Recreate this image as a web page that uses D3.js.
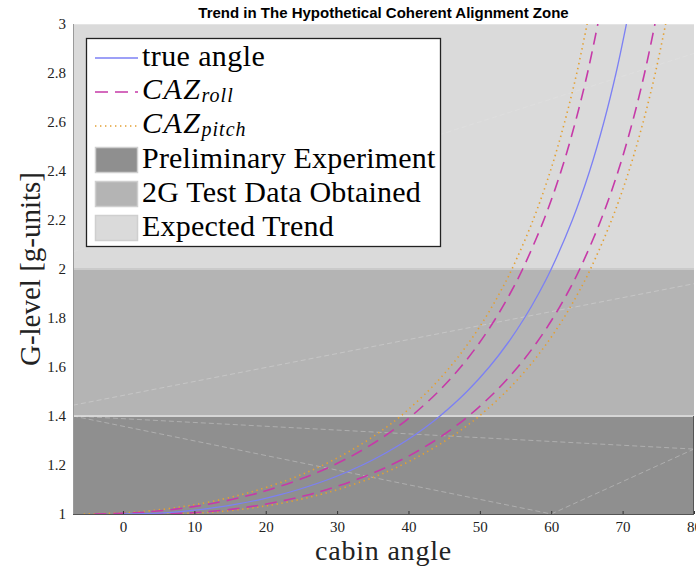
<!DOCTYPE html>
<html>
<head>
<meta charset="utf-8">
<script src="https://cdn.jsdelivr.net/npm/d3@7"></script>
<style>
  html, body { margin: 0; padding: 0; background: #fff; }
  svg { display: block; }
</style>
</head>
<body>
<svg id="chart" width="696" height="567"></svg>
<script>
// ---------------- data ----------------
const gLevel       = [1.00, 1.005, 1.01, 1.02, 1.03, 1.04, 1.06, 1.08, 1.10, 1.15, 1.20, 1.25, 1.30, 1.35, 1.40, 1.50, 1.60, 1.70, 1.80, 1.90, 2.00, 2.20, 2.40, 2.60, 2.80, 3.00];
const trueAngle    = [0, 5.72, 8.07, 11.36, 13.86, 15.94, 19.37, 22.19, 24.62, 29.59, 33.56, 36.87, 39.72, 42.21, 44.42, 48.19, 51.32, 53.97, 56.25, 58.24, 60.00, 62.96, 65.38, 67.38, 69.08, 70.53];
const rollLower    = [-4, 1.72, 4.07, 7.36, 9.86, 11.94, 15.37, 18.19, 20.62, 25.59, 29.56, 32.87, 35.72, 38.21, 40.42, 44.19, 47.32, 49.97, 52.25, 54.24, 56.00, 58.96, 61.38, 63.38, 65.08, 66.53];
const rollUpper    = [4, 9.72, 12.07, 15.36, 17.86, 19.94, 23.37, 26.19, 28.62, 33.59, 37.56, 40.87, 43.72, 46.21, 48.42, 52.19, 55.32, 57.97, 60.25, 62.24, 64.00, 66.96, 69.38, 71.38, 73.08, 74.53];
const pitchLower   = [-5.5, 0.22, 2.57, 5.86, 8.36, 10.44, 13.87, 16.69, 19.12, 24.09, 28.06, 31.37, 34.22, 36.71, 38.92, 42.69, 45.82, 48.47, 50.75, 52.74, 54.50, 57.46, 59.88, 61.88, 63.58, 65.03];
const pitchUpper   = [5.5, 11.22, 13.57, 16.86, 19.36, 21.44, 24.87, 27.69, 30.12, 35.09, 39.06, 42.37, 45.22, 47.71, 49.92, 53.69, 56.82, 59.47, 61.75, 63.74, 65.50, 68.46, 70.88, 72.88, 74.58, 76.03];

const regionNames  = ["Preliminary Experiment", "2G Test Data Obtained", "Expected Trend"];
const regionLower  = [1.0, 1.4, 2.0];
const regionUpper  = [1.4, 2.0, 3.0];

// faint seam lines visible inside the shaded regions [x1, g1, x2, g2]
const seamLines = [
  [-7, 1.40, 80, 1.265],
  [-7, 1.40, 60, 1.00],
  [60, 1.00, 80, 1.265],
  [-7, 1.444, 80, 1.94],
  [-7, 2.07, 80, 2.88]
];

const xTicks = [0, 10, 20, 30, 40, 50, 60, 70, 80];
const yTicks = [1, 1.2, 1.4, 1.6, 1.8, 2, 2.2, 2.4, 2.6, 2.8, 3];

const titleText = "Trend in The Hypothetical Coherent Alignment Zone";
const xLabel = "cabin angle";
const yLabel = "G-level [g-units]";

// ---------------- styles ----------------
const regionFill   = ["#8f8f8f", "#b4b4b4", "#dadada"];
const regionEdge   = ["#d6d6d6", "#cacaca", "#e4e4e4"];
const blue = "#7c80f4", magenta = "#c63aa8", orange = "#e3a032";
const serif = "'Liberation Serif', 'Times New Roman', serif";
const sans  = "'Liberation Sans', Arial, Helvetica, sans-serif";

const svg = d3.select("#chart");
const pL = 73, pR = 694, pT = 24, pB = 514;

const x = d3.scaleLinear().domain([-7, 80]).range([pL, pR]);
const y = d3.scaleLinear().domain([1, 3]).range([pB, pT]);

svg.append("defs").append("clipPath").attr("id", "plotClip")
  .append("rect").attr("x", pL).attr("y", pT).attr("width", pR - pL).attr("height", pB - pT);

const plot = svg.append("g").attr("clip-path", "url(#plotClip)");

// regions
regionNames.forEach((n, i) => {
  plot.append("rect")
    .attr("x", x(-7)).attr("width", x(80) - x(-7))
    .attr("y", y(regionUpper[i])).attr("height", y(regionLower[i]) - y(regionUpper[i]))
    .attr("fill", regionFill[i]);
});
regionNames.forEach((n, i) => {
  plot.append("line")
    .attr("x1", x(-7)).attr("x2", x(80))
    .attr("y1", y(regionUpper[i])).attr("y2", y(regionUpper[i]))
    .attr("stroke", regionEdge[i]).attr("stroke-width", 2);
});

// seams
seamLines.forEach(s => {
  plot.append("line")
    .attr("x1", x(s[0])).attr("y1", y(s[1]))
    .attr("x2", x(s[2])).attr("y2", y(s[3]))
    .attr("stroke", "#e6e6e6").attr("stroke-opacity", 0.45)
    .attr("stroke-width", 0.8).attr("stroke-dasharray", "5,3");
});

const line = xs => d3.line()
  .x((d, i) => x(xs[i]))
  .y(d => y(d))
  .curve(d3.curveCatmullRom.alpha(0.5))(gLevel);

const curves = [
  { xs: pitchLower, color: orange, width: 1.6, dash: "1.4,3.6" },
  { xs: pitchUpper, color: orange, width: 1.6, dash: "1.4,3.6" },
  { xs: rollLower,  color: magenta, width: 1.6, dash: "12,7" },
  { xs: rollUpper,  color: magenta, width: 1.6, dash: "12,7" },
  { xs: trueAngle,  color: blue, width: 1.3, dash: null }
];
curves.forEach(c => {
  plot.append("path").attr("d", line(c.xs))
    .attr("fill", "none").attr("stroke", c.color)
    .attr("stroke-width", c.width)
    .attr("stroke-dasharray", c.dash);
});

// spines
svg.append("line").attr("x1", pL + 0.5).attr("x2", pL + 0.5).attr("y1", pT).attr("y2", pB)
  .attr("stroke", "#9a9a9a").attr("stroke-width", 1);
svg.append("line").attr("x1", pL).attr("x2", pR).attr("y1", pB + 0.5).attr("y2", pB + 0.5)
  .attr("stroke", "#555").attr("stroke-width", 1);
svg.append("line").attr("x1", pR - 0.5).attr("x2", pR - 0.5).attr("y1", y(1.4)).attr("y2", pB)
  .attr("stroke", "#555").attr("stroke-width", 1);

// axes via d3
const xAxis = d3.axisBottom(x).tickValues(xTicks).tickSize(-3).tickPadding(7).tickFormat(d3.format("d"));
const gx = svg.append("g").attr("transform", `translate(0,${pB})`).call(xAxis);
gx.select(".domain").remove();
gx.selectAll(".tick line").attr("stroke", "#333");
gx.selectAll(".tick text").attr("font-family", serif).attr("font-size", 15).attr("fill", "#222");

const yAxis = d3.axisLeft(y).tickValues(yTicks).tickSize(0).tickPadding(7).tickFormat(d => String(+d.toFixed(1)));
const gy = svg.append("g").attr("transform", `translate(${pL},0)`).call(yAxis);
gy.select(".domain").remove();
gy.selectAll(".tick text").attr("font-family", serif).attr("font-size", 15).attr("fill", "#222");

// labels
svg.append("text").attr("x", (pL + pR) / 2).attr("y", 18)
  .attr("text-anchor", "middle").attr("font-family", sans).attr("font-weight", "bold")
  .attr("font-size", 15).attr("fill", "#000").text(titleText);

svg.append("text").attr("x", (pL + pR) / 2).attr("y", 560)
  .attr("text-anchor", "middle").attr("font-family", serif).attr("font-size", 28)
  .attr("letter-spacing", 0.8)
  .attr("fill", "#222").text(xLabel);

svg.append("text").attr("transform", `translate(40,${(pT + pB) / 2}) rotate(-90)`)
  .attr("text-anchor", "middle").attr("font-family", serif).attr("font-size", 29)
  .attr("fill", "#222").text(yLabel);

// legend
const lg = svg.append("g");
lg.append("rect").attr("x", 86.5).attr("y", 38.5).attr("width", 354).attr("height", 208)
  .attr("fill", "#fff").attr("stroke", "#222").attr("stroke-width", 1.3);

const legendLines = [
  { name: "true angle", color: blue, dash: null, width: 1.3, cy: 58 },
  { name: "roll", color: magenta, dash: "13,7", width: 1.6, cy: 92 },
  { name: "pitch", color: orange, dash: "1.4,3.6", width: 1.6, cy: 126 }
];
legendLines.forEach(l => {
  lg.append("line").attr("x1", 95).attr("x2", 138).attr("y1", l.cy).attr("y2", l.cy)
    .attr("stroke", l.color).attr("stroke-width", l.width).attr("stroke-dasharray", l.dash);
});
lg.append("text").attr("x", 142).attr("y", 66).attr("font-family", serif).attr("font-size", 30)
  .attr("letter-spacing", 0.4).attr("fill", "#000").text(legendLines[0].name);
[1, 2].forEach(i => {
  const t = lg.append("text").attr("x", 142).attr("y", legendLines[i].cy + 7)
    .attr("font-family", serif).attr("font-size", 30).attr("font-style", "italic").attr("fill", "#000");
  t.append("tspan").attr("letter-spacing", 1.5).text("CAZ");
  t.append("tspan").attr("dy", 3).attr("font-size", 20).attr("letter-spacing", 1).text(legendLines[i].name);
});
const swatchCy = [160, 194, 228];
regionNames.forEach((n, i) => {
  lg.append("rect").attr("x", 95.5).attr("y", swatchCy[i] - 12.5).attr("width", 42).attr("height", 25)
    .attr("fill", regionFill[i]).attr("stroke", "#cfcfcf").attr("stroke-width", 1.5);
  lg.append("text").attr("x", 142).attr("y", swatchCy[i] + 8)
    .attr("font-family", serif).attr("font-size", 30).attr("letter-spacing", 0.2)
    .attr("fill", "#000").text(n);
});
</script>
</body>
</html>
